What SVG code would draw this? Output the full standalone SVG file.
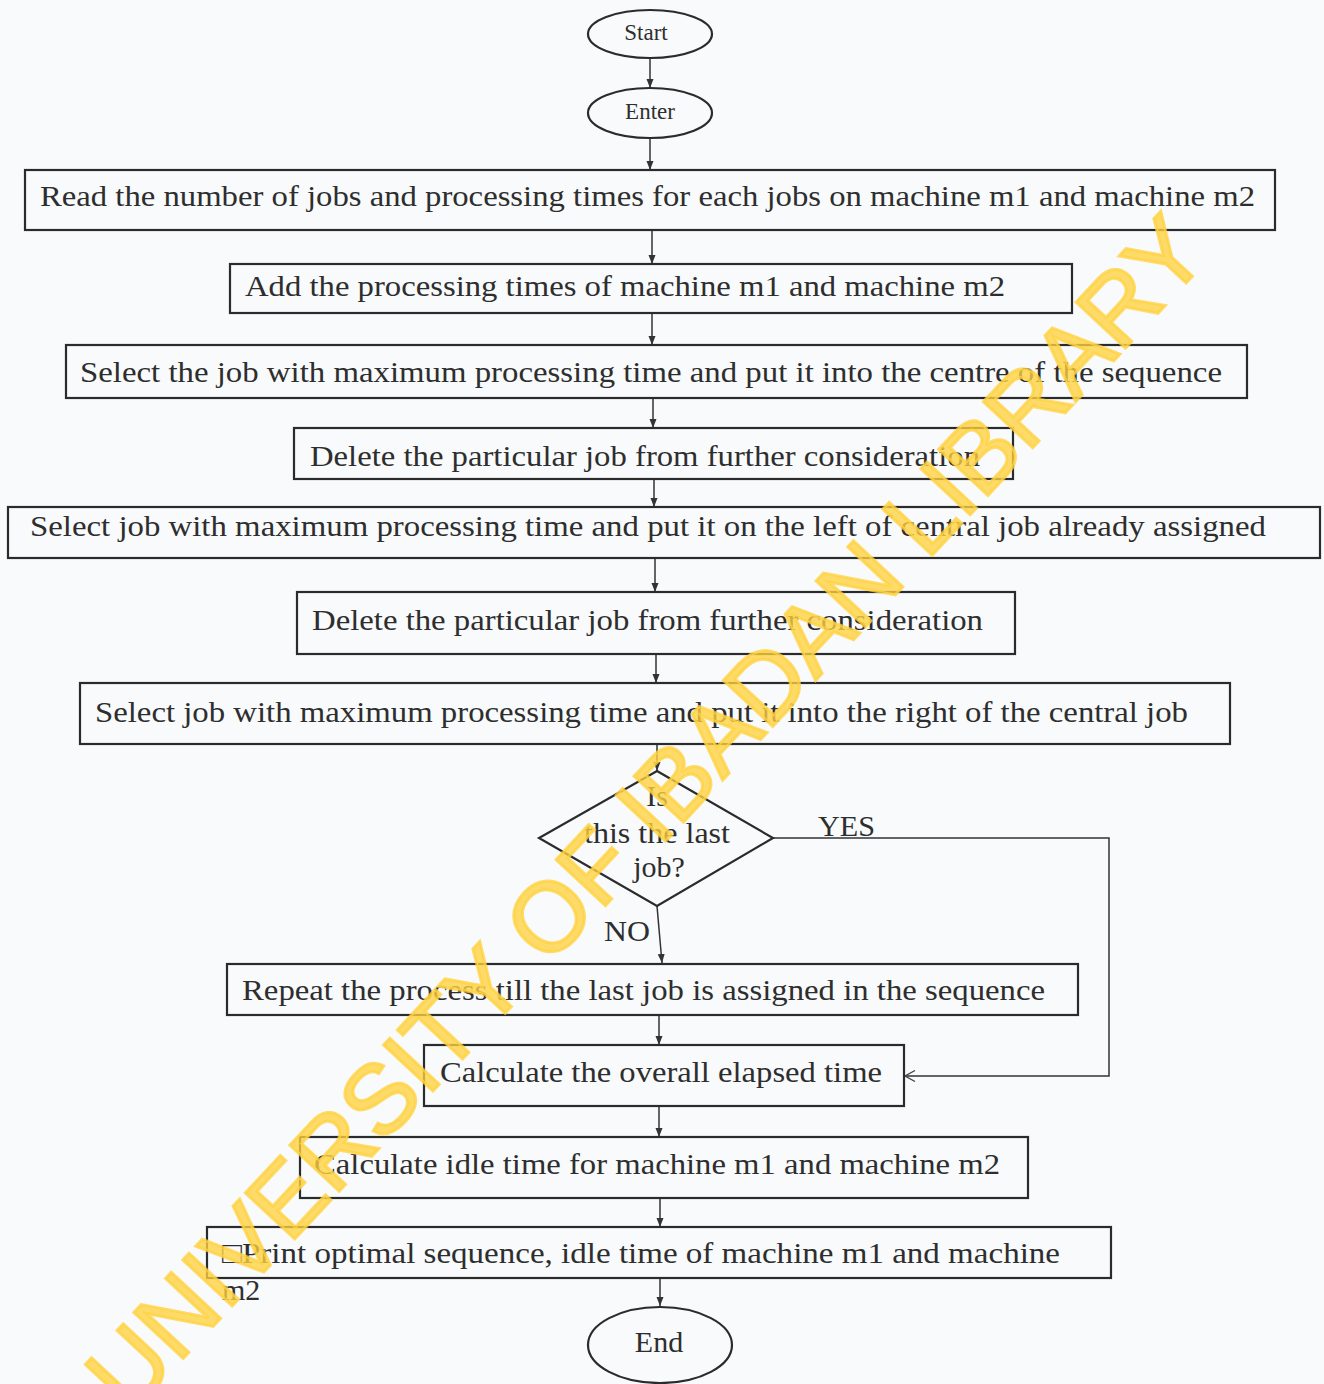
<svg xmlns="http://www.w3.org/2000/svg" width="1324" height="1384" viewBox="0 0 1324 1384">
<defs>
<marker id="ah" markerWidth="10" markerHeight="10" refX="9" refY="5" orient="auto" markerUnits="userSpaceOnUse"><path d="M0,1.5 L9,5 L0,8.5 Z" fill="#333"/></marker>
<marker id="ao" markerWidth="14" markerHeight="14" refX="11" refY="7" orient="auto" markerUnits="userSpaceOnUse"><path d="M1,1.5 L11,7 L1,12.5" fill="none" stroke="#444" stroke-width="1.4"/></marker>
</defs>
<style>
.bx{fill:none;stroke:#2b2b2b;stroke-width:2.2}
.t{font-family:"Liberation Serif","Times New Roman",serif;font-size:30px;fill:#2e2e2e}
.s{font-size:23px}
.c{stroke:#333;stroke-width:1.5;fill:none}
.wm{font-family:"Liberation Sans",Arial,sans-serif;font-size:98px;fill:#ffd23f;fill-opacity:0.78;stroke:#ffd23f;stroke-opacity:0.78;stroke-width:3}
</style>
<rect width="1324" height="1384" fill="#f8fafc"/>
<g id="connectors">
<line class="c" x1="650" y1="57" x2="650" y2="88" marker-end="url(#ah)"/>
<line class="c" x1="650" y1="138" x2="650" y2="170" marker-end="url(#ah)"/>
<line class="c" x1="652" y1="230" x2="652" y2="264" marker-end="url(#ah)"/>
<line class="c" x1="652" y1="313" x2="652" y2="345" marker-end="url(#ah)"/>
<line class="c" x1="653" y1="398" x2="653" y2="428" marker-end="url(#ah)"/>
<line class="c" x1="654" y1="479" x2="654" y2="507" marker-end="url(#ah)"/>
<line class="c" x1="655" y1="558" x2="655" y2="592" marker-end="url(#ah)"/>
<line class="c" x1="656" y1="654" x2="656" y2="683" marker-end="url(#ah)"/>
<line class="c" x1="657" y1="744" x2="657" y2="771" marker-end="url(#ah)"/>
<line class="c" x1="657" y1="906" x2="662" y2="963" marker-end="url(#ah)"/>
<polyline class="c" points="773,838 1109,838 1109,1076 905,1076" marker-end="url(#ao)"/>
<line class="c" x1="659" y1="1015" x2="659" y2="1045" marker-end="url(#ah)"/>
<line class="c" x1="659" y1="1106" x2="659" y2="1137" marker-end="url(#ah)"/>
<line class="c" x1="660" y1="1198" x2="660" y2="1227" marker-end="url(#ah)"/>
<line class="c" x1="660" y1="1278" x2="660" y2="1306" marker-end="url(#ah)"/>
<text class="t" x="818" y="836" textLength="57" lengthAdjust="spacingAndGlyphs">YES</text>
<text class="t" x="604" y="941" textLength="46" lengthAdjust="spacingAndGlyphs">NO</text>
</g>
<g id="start">
<ellipse class="bx" cx="650" cy="34" rx="62" ry="24"/>
<text class="t s" x="646" y="40" text-anchor="middle">Start</text>
</g>
<g id="enter">
<ellipse class="bx" cx="650" cy="113" rx="62" ry="25"/>
<text class="t s" x="650" y="119" text-anchor="middle">Enter</text>
</g>
<g id="read">
<rect class="bx" x="25" y="170" width="1250" height="60"/>
<text class="t" x="40" y="206" textLength="1215" lengthAdjust="spacingAndGlyphs">Read the number of jobs and processing times for each jobs on machine m1 and machine m2</text>
</g>
<g id="add">
<rect class="bx" x="230" y="264" width="842" height="49"/>
<text class="t" x="245" y="296" textLength="760" lengthAdjust="spacingAndGlyphs">Add the processing times of machine m1 and machine m2</text>
</g>
<g id="select-centre">
<rect class="bx" x="66" y="345" width="1181" height="53"/>
<text class="t" x="80" y="382" textLength="1142" lengthAdjust="spacingAndGlyphs">Select the job with maximum processing time and put it into the centre of the sequence</text>
</g>
<g id="delete1">
<rect class="bx" x="294" y="428" width="719" height="51"/>
<text class="t" x="310" y="466" textLength="670" lengthAdjust="spacingAndGlyphs">Delete the particular job from further consideration</text>
</g>
<g id="select-left">
<rect class="bx" x="8" y="507" width="1312" height="51"/>
<text class="t" x="30" y="536" textLength="1236" lengthAdjust="spacingAndGlyphs">Select job with maximum processing time and put it on the left of central job already assigned</text>
</g>
<g id="delete2">
<rect class="bx" x="297" y="592" width="718" height="62"/>
<text class="t" x="312" y="630" textLength="671" lengthAdjust="spacingAndGlyphs">Delete the particular job from further consideration</text>
</g>
<g id="select-right">
<rect class="bx" x="80" y="683" width="1150" height="61"/>
<text class="t" x="95" y="722" textLength="1093" lengthAdjust="spacingAndGlyphs">Select job with maximum processing time and put it into the right of the central job</text>
</g>
<g id="decision">
<polygon class="bx" points="657,771 773,838 657,906 539,838"/>
<text class="t" x="657" y="806" text-anchor="middle">Is</text>
<text class="t" x="657" y="843" text-anchor="middle" textLength="146" lengthAdjust="spacingAndGlyphs">this the last</text>
<text class="t" x="659" y="877" text-anchor="middle">job?</text>
</g>
<g id="repeat">
<rect class="bx" x="227" y="964" width="851" height="51"/>
<text class="t" x="242" y="1000" textLength="803" lengthAdjust="spacingAndGlyphs">Repeat the process till the last job is assigned in the sequence</text>
</g>
<g id="elapsed">
<rect class="bx" x="424" y="1045" width="480" height="61"/>
<text class="t" x="440" y="1082" textLength="442" lengthAdjust="spacingAndGlyphs">Calculate the overall elapsed time</text>
</g>
<g id="idle">
<rect class="bx" x="300" y="1137" width="728" height="61"/>
<text class="t" x="314" y="1174" textLength="686" lengthAdjust="spacingAndGlyphs">Calculate idle time for machine m1 and machine m2</text>
</g>
<g id="print">
<rect class="bx" x="207" y="1227" width="904" height="51"/>
<text class="t" x="222" y="1263" textLength="838" lengthAdjust="spacingAndGlyphs">□Print optimal sequence, idle time of machine m1 and machine</text>
<text class="t" x="222" y="1300">m2</text>
</g>
<g id="end">
<ellipse class="bx" cx="660" cy="1345" rx="72" ry="38"/>
<text class="t" x="659" y="1352" text-anchor="middle">End</text>
</g>
<g id="watermark">
<text class="wm" transform="translate(645,812) rotate(-47)" x="0" y="35" text-anchor="middle">UNIVERSITY OF IBADAN LIBRARY</text>
</g>
</svg>
